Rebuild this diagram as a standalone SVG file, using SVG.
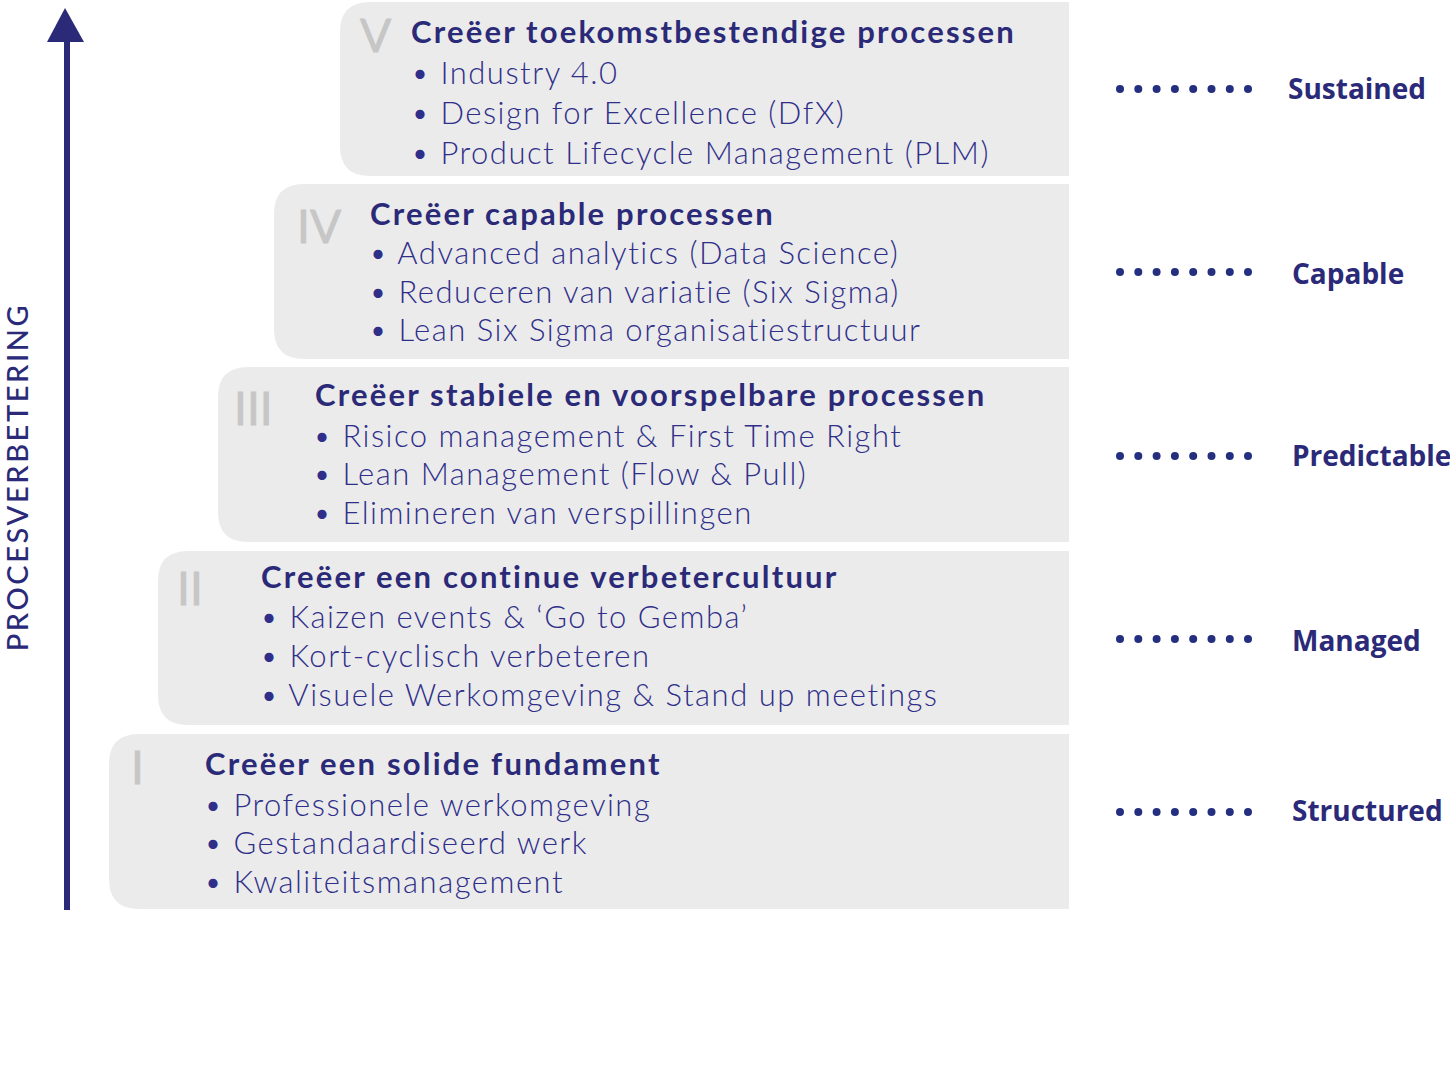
<svg xmlns="http://www.w3.org/2000/svg" width="1450" height="1085" viewBox="0 0 1450 1085">
<style>
.box{fill:#ebebeb}
.num{font-family:Lato,"Liberation Sans",sans-serif;font-size:46px;fill:#c6c6c6;stroke:#c6c6c6;stroke-width:0.8;font-weight:400}
.t{font-family:Lato,"Liberation Sans",sans-serif;font-size:31px;font-weight:700;fill:#2b2a78;letter-spacing:2.2px}
.i{font-family:Lato,"Liberation Sans",sans-serif;font-size:31px;font-weight:300;fill:#2f2f8a;letter-spacing:1.5px}
.lab{font-family:"Open Sans","Liberation Sans",sans-serif;font-size:28px;font-weight:700;fill:#2b2a78}
.dot{fill:#24307f}
</style>
<defs>
<g id="dots"><circle cx="1120" cy="0" r="4"/><circle cx="1138.3" cy="0" r="4"/><circle cx="1156.6" cy="0" r="4"/><circle cx="1174.9" cy="0" r="4"/><circle cx="1193.2" cy="0" r="4"/><circle cx="1211.5" cy="0" r="4"/><circle cx="1229.8" cy="0" r="4"/><circle cx="1248" cy="0" r="4"/></g>
</defs>
<rect width="1450" height="1085" fill="#fff"/>
<g id="axis">
<line x1="67" y1="910" x2="67" y2="38" stroke="#2b2a78" stroke-width="6"/>
<polygon points="65,8 84,42 47,42" fill="#2b2a78"/>
<text transform="translate(28,477) rotate(-90)" text-anchor="middle" font-family="Lato,'Liberation Sans',sans-serif" font-size="29" font-weight="500" letter-spacing="2.6" fill="#2b2a78">PROCESVERBETERING</text>
</g>
<g id="level5">
<path class="box" d="M370,2 H1069 V176 H370 Q340,176 340,146 V32 Q340,2 370,2 Z"/>
<text class="num" x="360" y="52">V</text>
<text class="t" x="411" y="43">Creëer toekomstbestendige processen</text>
<text class="i" x="411" y="84">• Industry 4.0</text>
<text class="i" x="411" y="124">• Design for Excellence (DfX)</text>
<text class="i" x="411" y="164">• Product Lifecycle Management (PLM)</text>
</g>
<g id="level4">
<path class="box" d="M304,184 H1069 V359 H304 Q274,359 274,329 V214 Q274,184 304,184 Z"/>
<text class="num" x="297" y="243">IV</text>
<text class="t" x="370" y="225">Creëer capable processen</text>
<text class="i" x="369" y="264">• Advanced analytics (Data Science)</text>
<text class="i" x="369" y="303">• Reduceren van variatie (Six Sigma)</text>
<text class="i" x="369" y="341">• Lean Six Sigma organisatiestructuur</text>
</g>
<g id="level3">
<path class="box" d="M248,367 H1069 V542 H248 Q218,542 218,512 V397 Q218,367 248,367 Z"/>
<text class="num" x="234" y="425">III</text>
<text class="t" x="315" y="406">Creëer stabiele en voorspelbare processen</text>
<text class="i" x="313" y="447">• Risico management &amp; First Time Right</text>
<text class="i" x="313" y="485">• Lean Management (Flow &amp; Pull)</text>
<text class="i" x="313" y="524">• Elimineren van verspillingen</text>
</g>
<g id="level2">
<path class="box" d="M188,551 H1069 V725 H188 Q158,725 158,695 V581 Q158,551 188,551 Z"/>
<text class="num" x="177" y="605">II</text>
<text class="t" x="261" y="588">Creëer een continue verbetercultuur</text>
<text class="i" x="260" y="628">• Kaizen events &amp; ‘Go to Gemba’</text>
<text class="i" x="260" y="667">• Kort-cyclisch verbeteren</text>
<text class="i" x="260" y="706">• Visuele Werkomgeving &amp; Stand up meetings</text>
</g>
<g id="level1">
<path class="box" d="M139,734 H1069 V909 H139 Q109,909 109,879 V764 Q109,734 139,734 Z"/>
<text class="num" x="131" y="784">I</text>
<text class="t" x="205" y="775">Creëer een solide fundament</text>
<text class="i" x="204" y="816">• Professionele werkomgeving</text>
<text class="i" x="204" y="854">• Gestandaardiseerd werk</text>
<text class="i" x="204" y="893">• Kwaliteitsmanagement</text>
</g>
<g id="connectors" class="dot">
<use href="#dots" y="89"/>
<use href="#dots" y="272"/>
<use href="#dots" y="456"/>
<use href="#dots" y="639"/>
<use href="#dots" y="812"/>
</g>
<g id="labels">
<text class="lab" x="1288" y="99">Sustained</text>
<text class="lab" x="1292" y="284">Capable</text>
<text class="lab" x="1292" y="466">Predictable</text>
<text class="lab" x="1292" y="651">Managed</text>
<text class="lab" x="1292" y="821">Structured</text>
</g>
</svg>
